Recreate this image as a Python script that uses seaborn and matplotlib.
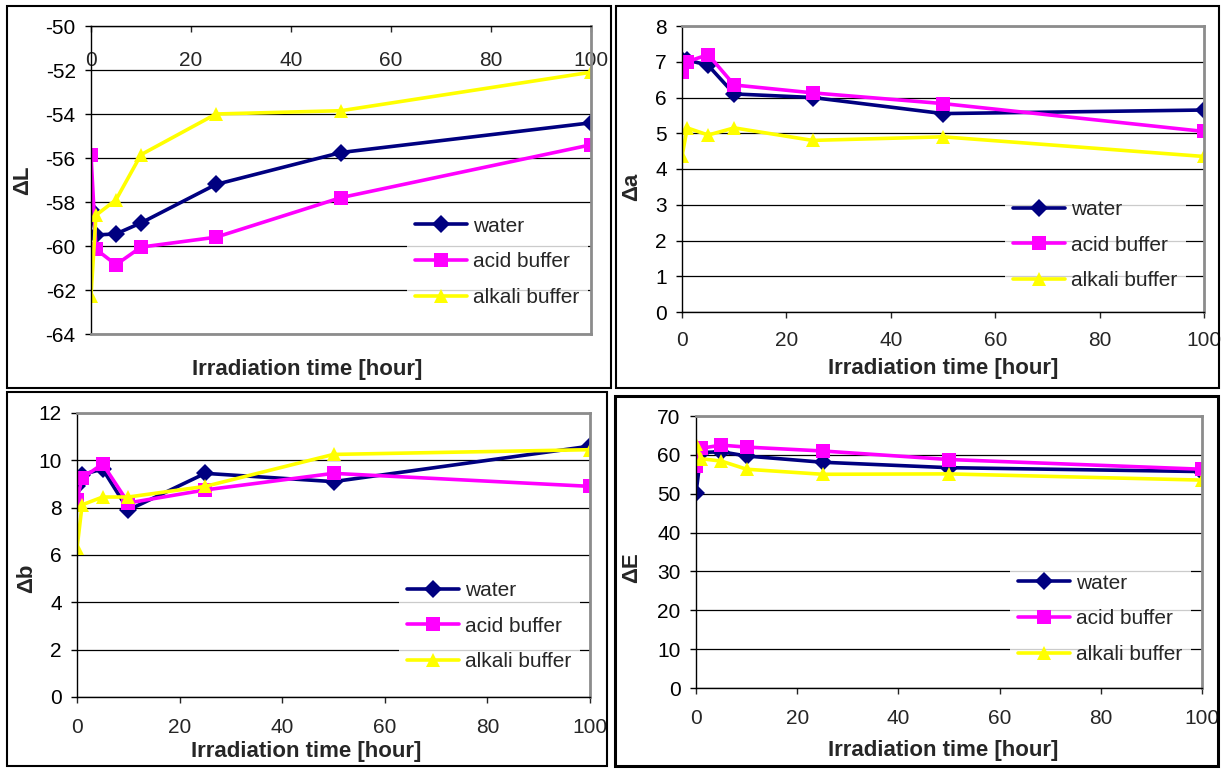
import matplotlib.pyplot as plt
import numpy as np
import pandas as pd
import seaborn as sns
from matplotlib.patches import Rectangle

sns.set_theme(style="white")
plt.rcParams["font.family"] = ["Liberation Sans", "DejaVu Sans"]
plt.rcParams["axes.unicode_minus"] = False

hours = [0, 1, 5, 10, 25, 50, 100]
series_names = ["water", "acid buffer", "alkali buffer"]

dL_water = [-58.35, -59.5, -59.45, -58.95, -57.2, -55.75, -54.4]
dL_acid = [-55.85, -60.15, -60.85, -60.05, -59.6, -57.8, -55.4]
dL_alkali = [-62.25, -58.6, -57.9, -55.85, -54.0, -53.85, -52.1]

da_water = [7.05, 7.05, 6.9, 6.1, 6.0, 5.55, 5.65]
da_acid = [6.7, 7.0, 7.2, 6.35, 6.13, 5.83, 5.05]
da_alkali = [4.35, 5.15, 4.95, 5.15, 4.8, 4.9, 4.35]

db_water = [8.9, 9.4, 9.63, 7.9, 9.45, 9.1, 10.6]
db_acid = [8.33, 9.25, 9.85, 8.2, 8.75, 9.45, 8.9]
db_alkali = [6.28, 8.12, 8.45, 8.45, 8.9, 10.25, 10.45]

dE_water = [50.2, 60.6, 60.8, 59.7, 58.1, 56.7, 55.7]
dE_acid = [57.1, 61.7, 62.5, 62.0, 61.0, 58.8, 56.3]
dE_alkali = [62.8, 59.0, 58.4, 56.3, 55.0, 55.1, 53.5]

palette = {"water": "#000080", "acid buffer": "#FF00FF", "alkali buffer": "#FFFF00"}
marker_map = {"water": "D", "acid buffer": "s", "alkali buffer": "^"}

W, H = 1224, 769
fig = plt.figure(figsize=(W / 100, H / 100), dpi=100)


def px_axes(left, top, right, bottom):
    return fig.add_axes([left / W, 1 - bottom / H, (right - left) / W, (bottom - top) / H])


def draw_panel(ax, water, acid, alkali, ylabel, ylim, ystep, axis_top,
               xpad, ylabel_xy, xlabel_xy, legend_xy):
    df = pd.DataFrame({
        "hour": hours * 3,
        "value": water + acid + alkali,
        "sample": np.repeat(series_names, len(hours)),
    })
    sns.lineplot(data=df, x="hour", y="value", hue="sample", style="sample",
                 hue_order=series_names, style_order=series_names,
                 markers=marker_map, dashes=False, palette=palette, ax=ax,
                 linewidth=2.6, markersize=9.5, markeredgewidth=0, sort=False)
    ax.set_xlim(0, 100)
    ax.set_ylim(*ylim)
    ax.set_xticks(range(0, 101, 20))
    ax.set_yticks(np.arange(ylim[0], ylim[1] + ystep / 2, ystep))
    ax.yaxis.grid(True, color="black", linewidth=0.9)
    ax.xaxis.grid(False)
    ax.set_axisbelow(True)

    for side in ["top", "right", "bottom", "left"]:
        ax.spines[side].set_color("#8c8c8c")
        ax.spines[side].set_linewidth(2)
    ax.spines["left"].set_color("black")
    ax.spines["left"].set_linewidth(1)
    axis_side = "top" if axis_top else "bottom"
    ax.spines[axis_side].set_color("black")
    ax.spines[axis_side].set_linewidth(1)

    ax.tick_params(axis="y", left=True, direction="out", length=4, width=1,
                   labelsize=15, pad=7, colors="black")
    if axis_top:
        ax.tick_params(axis="x", top=True, bottom=False, labeltop=True,
                       labelbottom=False, direction="in", length=4, width=1,
                       labelsize=15, pad=xpad)
    else:
        ax.tick_params(axis="x", bottom=True, direction="out", length=4,
                       width=1, labelsize=15, pad=xpad)

    ax.set_ylabel(ylabel, fontsize=16, fontweight="bold")
    ax.yaxis.set_label_coords(*ylabel_xy)
    ax.set_xlabel("Irradiation time [hour]", fontsize=16, fontweight="bold")
    ax.xaxis.set_label_position("bottom")
    ax.xaxis.set_label_coords(*xlabel_xy)

    handles, labels = ax.get_legend_handles_labels()
    leg = ax.legend(handles, labels, loc="center left", bbox_to_anchor=legend_xy,
                    borderaxespad=0, borderpad=0.4, fontsize=15, frameon=True,
                    fancybox=False, handlelength=2.5, handletextpad=0.3,
                    labelspacing=0.8)
    leg.get_frame().set_facecolor("white")
    leg.get_frame().set_edgecolor("none")


ax1 = px_axes(91, 26, 591, 334)
draw_panel(ax1, dL_water, dL_acid, dL_alkali, "ΔL", (-64, -50), 2, True, -31.5,
           (-0.116, 0.5), (0.432, -0.08), (0.631, 0.234))

ax2 = px_axes(682, 26, 1204, 312)
draw_panel(ax2, da_water, da_acid, da_alkali, "Δa", (0, 8), 1, False, 9.7,
           (-0.077, 0.437), (0.5, -0.16), (0.618, 0.234))

ax3 = px_axes(77, 413, 590, 697)
draw_panel(ax3, db_water, db_acid, db_alkali, "Δb", (0, 12), 2, False, 11.1,
           (-0.078, 0.419), (0.446, -0.155), (0.627, 0.25))

ax4 = px_axes(696, 416, 1202, 688)
draw_panel(ax4, dE_water, dE_acid, dE_alkali, "ΔE", (0, 70), 10, False, 11.1,
           (-0.107, 0.441), (0.488, -0.19), (0.620, 0.254))

# chart-area frames
for (l, t, r, b), lw in [((7, 6, 611, 388), 1.5), ((616, 6, 1219, 388), 1.5),
                         ((7, 392, 607, 766), 1.5), ((615, 396, 1218, 766), 2.2)]:
    fig.add_artist(Rectangle((l / W, 1 - b / H), (r - l) / W, (b - t) / H,
                             transform=fig.transFigure, fill=False,
                             edgecolor="black", linewidth=lw))

fig.savefig("out.png", dpi=100)
